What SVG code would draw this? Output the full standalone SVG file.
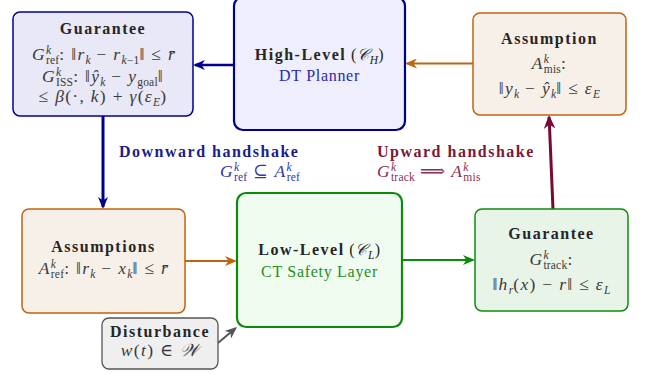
<svg xmlns="http://www.w3.org/2000/svg" width="648" height="374" viewBox="0 0 648 374">
<defs>
<style>
text{font-family:"Liberation Serif","DejaVu Serif",serif;font-size:16px;fill:#262626;text-anchor:middle;letter-spacing:0.7px}
.b{font-weight:bold;letter-spacing:1.5px}
.i{font-style:italic}
.m{fill:#3a3a3a;font-size:17.5px;letter-spacing:1.3px}
.sup{font-size:11.5px;baseline-shift:6px;letter-spacing:0.2px}
.sub{font-size:11.5px;baseline-shift:-3.5px;letter-spacing:0.2px}
.box{stroke-width:1.5}
.main{stroke-width:2.2}
</style>
<marker id="ahBlue" markerUnits="userSpaceOnUse" viewBox="0 0 12 10" markerWidth="12" markerHeight="10" refX="10" refY="5" orient="auto"><path d="M0,0 L12,5 L0,10 L3.5,5 Z" fill="#00008f"/></marker>
<marker id="ahOrange" markerUnits="userSpaceOnUse" viewBox="0 0 12 10" markerWidth="12" markerHeight="10" refX="10" refY="5" orient="auto"><path d="M0,0 L12,5 L0,10 L3.5,5 Z" fill="#c0640f"/></marker>
<marker id="ahGreen" markerUnits="userSpaceOnUse" viewBox="0 0 12 10" markerWidth="12" markerHeight="10" refX="10" refY="5" orient="auto"><path d="M0,0 L12,5 L0,10 L3.5,5 Z" fill="#0c8a0c"/></marker>
<marker id="ahMaroon" markerUnits="userSpaceOnUse" viewBox="0 0 12 10" markerWidth="14" markerHeight="12" refX="10" refY="5" orient="auto"><path d="M0,0 L12,5 L0,10 L3.5,5 Z" fill="#7a0a35"/></marker>
<marker id="ahGray" markerUnits="userSpaceOnUse" viewBox="0 0 12 10" markerWidth="12" markerHeight="10" refX="10" refY="5" orient="auto"><path d="M0,0 L12,5 L0,10 L3.5,5 Z" fill="#555555"/></marker>
</defs>

<g id="connectors" fill="none">
<line x1="234" y1="65" x2="195" y2="65" stroke="#00008f" stroke-width="2.4" marker-end="url(#ahBlue)"/>
<line x1="473" y1="63.5" x2="407" y2="63.5" stroke="#c0640f" stroke-width="2" marker-end="url(#ahOrange)"/>
<line x1="103" y1="116" x2="103" y2="207" stroke="#00008f" stroke-width="3" marker-end="url(#ahBlue)"/>
<line x1="185" y1="261" x2="235" y2="261" stroke="#c0640f" stroke-width="2" marker-end="url(#ahOrange)"/>
<line x1="402" y1="260" x2="473" y2="260" stroke="#0c8a0c" stroke-width="2" marker-end="url(#ahGreen)"/>
<line x1="553" y1="209" x2="549.1" y2="117" stroke="#7a0a35" stroke-width="3" marker-end="url(#ahMaroon)"/>
<line x1="218" y1="343" x2="235.5" y2="328.3" stroke="#555555" stroke-width="2" marker-end="url(#ahGray)"/>
</g>

<g id="guarantee-high">
<rect x="13" y="12" width="180" height="104" rx="7" fill="#e8e8f6" stroke="#00008f" class="box"/>
<text x="103" y="34" class="b">Guarantee</text>
<text x="104" y="60" class="m"><tspan class="i">G</tspan><tspan class="sup i">k</tspan><tspan class="sub" dx="-5.3">ref</tspan>: ‖<tspan class="i">r</tspan><tspan class="sub i">k</tspan> − <tspan class="i">r</tspan><tspan class="sub"><tspan class="i">k</tspan>−1</tspan>‖ ≤ <tspan class="i">r̄</tspan></text>
<text x="103" y="82" class="m"><tspan class="i">G</tspan><tspan class="sup i">k</tspan><tspan class="sub" dx="-5.3">ISS</tspan>: ‖<tspan class="i">ŷ</tspan><tspan class="sub i">k</tspan> − <tspan class="i">y</tspan><tspan class="sub">goal</tspan>‖</text>
<text x="103" y="102" class="m">≤ <tspan class="i">β</tspan>(·, <tspan class="i">k</tspan>) + <tspan class="i">γ</tspan>(<tspan class="i">ε</tspan><tspan class="sub i">E</tspan>)</text>
</g>

<g id="high-level">
<rect x="234" y="-3" width="171" height="133" rx="9" fill="#eeeefc" stroke="#00008f" class="main"/>
<text x="319.5" y="60"><tspan class="b">High-Level</tspan> (<tspan class="i">𝒞</tspan><tspan class="sub i">H</tspan>)</text>
<text x="319.5" y="81" style="fill:#2a2aa8">DT Planner</text>
</g>

<g id="assumption-mis">
<rect x="473" y="13" width="153" height="102" rx="7" fill="#f7f0e9" stroke="#c0640f" class="box"/>
<text x="549.5" y="44" class="b">Assumption</text>
<text x="549.5" y="69" class="m"><tspan class="i">A</tspan><tspan class="sup i">k</tspan><tspan class="sub" dx="-5.3">mis</tspan>:</text>
<text x="549.5" y="94" class="m">‖<tspan class="i">y</tspan><tspan class="sub i">k</tspan> − <tspan class="i">ŷ</tspan><tspan class="sub i">k</tspan>‖ ≤ <tspan class="i">ε</tspan><tspan class="sub i">E</tspan></text>
</g>

<g id="assumptions-ref">
<rect x="22" y="209" width="163" height="104" rx="7" fill="#f7f0e9" stroke="#c0640f" class="box"/>
<text x="103.5" y="252" class="b">Assumptions</text>
<text x="104" y="274" class="m"><tspan class="i">A</tspan><tspan class="sup i">k</tspan><tspan class="sub" dx="-5.3">ref</tspan>: ‖<tspan class="i">r</tspan><tspan class="sub i">k</tspan> − <tspan class="i">x</tspan><tspan class="sub i">k</tspan>‖ ≤ <tspan class="i">r̄</tspan></text>
</g>

<g id="low-level">
<rect x="237" y="193" width="165" height="134" rx="9" fill="#effcef" stroke="#0c8a0c" class="main"/>
<text x="319.5" y="255"><tspan class="b">Low-Level</tspan> (<tspan class="i">𝒞</tspan><tspan class="sub i">L</tspan>)</text>
<text x="319.5" y="277" style="fill:#1f8f1f">CT Safety Layer</text>
</g>

<g id="guarantee-track">
<rect x="475" y="209" width="153" height="102" rx="7" fill="#e9f4e9" stroke="#0c8a0c" class="box"/>
<text x="551.5" y="239" class="b">Guarantee</text>
<text x="551.5" y="265" class="m"><tspan class="i">G</tspan><tspan class="sup i">k</tspan><tspan class="sub" dx="-5.3">track</tspan>:</text>
<text x="551.5" y="290" class="m">‖<tspan class="i">h</tspan><tspan class="sub i">r</tspan>(<tspan class="i">x</tspan>) − <tspan class="i">r</tspan>‖ ≤ <tspan class="i">ε</tspan><tspan class="sub i">L</tspan></text>
</g>

<g id="disturbance">
<rect x="102" y="318" width="116" height="51" rx="7" fill="#efefef" stroke="#555555" stroke-width="1.3"/>
<text x="160" y="337" class="b">Disturbance</text>
<text x="160" y="356" class="m"><tspan class="i">w</tspan>(<tspan class="i">t</tspan>) ∈ <tspan class="i">𝒲</tspan></text>
</g>

<g id="downward-handshake">
<text x="119" y="157" class="b" style="text-anchor:start;fill:#1c1c8c">Downward handshake</text>
<text x="300" y="177" class="m" style="text-anchor:end;fill:#3434aa"><tspan class="i">G</tspan><tspan class="sup i">k</tspan><tspan class="sub" dx="-5.3">ref</tspan> ⊆ <tspan class="i">A</tspan><tspan class="sup i">k</tspan><tspan class="sub" dx="-5.3">ref</tspan></text>
</g>

<g id="upward-handshake">
<text x="377" y="157" class="b" style="text-anchor:start;fill:#7a1838">Upward handshake</text>
<text x="377" y="177" class="m" style="text-anchor:start;fill:#8b3050"><tspan class="i">G</tspan><tspan class="sup i">k</tspan><tspan class="sub" dx="-5.3">track</tspan><tspan dx="5">⟹</tspan><tspan dx="5" class="i">A</tspan><tspan class="sup i">k</tspan><tspan class="sub" dx="-5.3">mis</tspan></text>
</g>
</svg>
